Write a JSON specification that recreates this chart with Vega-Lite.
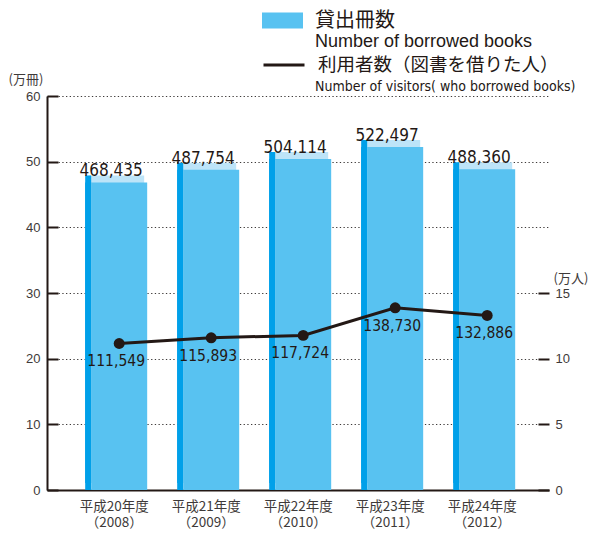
{
  "$schema": "https://vega.github.io/schema/vega-lite/v6.json",
  "width": 502,
  "height": 394,
  "autosize": {"type": "none"},
  "padding": {"left": 47, "top": 96, "right": 43, "bottom": 44},
  "background": "white",
  "config": {"view": {"stroke": null}, "font": "Liberation Sans"},
  "data": {
    "values": [
      {"year": "平成20年度|（2008）", "books": 468435, "visitors": 111549},
      {"year": "平成21年度|（2009）", "books": 487754, "visitors": 115893},
      {"year": "平成22年度|（2010）", "books": 504114, "visitors": 117724},
      {"year": "平成23年度|（2011）", "books": 522497, "visitors": 138730},
      {"year": "平成24年度|（2012）", "books": 488360, "visitors": 132886}
    ]
  },
  "encoding": {
    "x": {
      "field": "year",
      "type": "nominal",
      "sort": null,
      "scale": {"paddingInner": 0, "paddingOuter": 0.2283, "align": 0.552},
      "axis": {
        "title": null,
        "ticks": false,
        "grid": false,
        "domainColor": "#231815",
        "domainWidth": 2,
        "labelExpr": "split(datum.label, '|')",
        "labelFont": "Noto Sans CJK JP",
        "labelFontSize": 13.5,
        "labelColor": "#3e3a39",
        "labelAngle": 0,
        "labelPadding": 9,
        "labelLineHeight": 16,
        "labelOffset": -2,
        "labelBaseline": "top"
      }
    }
  },
  "layer": [
    {
      "encoding": {
        "y": {
          "field": "books",
          "type": "quantitative",
          "scale": {"domain": [0, 600000], "nice": false},
          "axis": {
            "values": [0, 100000, 200000, 300000, 400000, 500000, 600000],
            "labelExpr": "format(datum.value / 10000, 'd')",
            "title": "(万冊)",
            "titleAngle": 0,
            "titleX": -39,
            "titleY": -17,
            "titleAlign": "left",
            "titleBaseline": "middle",
            "titleFont": "Noto Sans CJK JP",
            "titleFontSize": 13,
            "titleFontWeight": "normal",
            "titleColor": "#3e3a39",
            "grid": true,
            "gridDash": [1.3, 2.4],
            "gridColor": "#3e3a39",
            "gridWidth": 1.2,
            "domainColor": "#231815",
            "domainWidth": 2,
            "tickColor": "#231815",
            "tickWidth": 2,
            "tickSize": -11,
            "labelPadding": 18,
            "labelFont": "Liberation Sans",
            "labelFontSize": 13,
            "labelColor": "#3e3a39"
          }
        }
      },
      "layer": [
        {"mark": {"type": "bar", "color": "#bde4f8", "width": 56, "yOffset": -7}},
        {"mark": {"type": "bar", "color": "#00a0e9", "width": 6, "xOffset": -28, "yOffset": -7}},
        {"mark": {"type": "bar", "color": "#00a0e9", "width": 6, "xOffset": -28}},
        {
          "mark": {"type": "bar", "width": 56, "xOffset": 3},
          "encoding": {
            "color": {
              "datum": "貸出冊数",
              "scale": {"range": ["#58c2f1"]},
              "legend": {
                "orient": "none",
                "legendX": 268,
                "legendY": -85.5,
                "title": "Number of borrowed books",
                "titleOrient": "bottom",
                "titleAnchor": "start",
                "titleAlign": "left",
                "titleFont": "Liberation Sans",
                "titleFontSize": 18,
                "titleFontWeight": "normal",
                "titleColor": "#231815",
                "titlePadding": 2,
                "titleLimit": 400,
                "symbolType": "M-2.05,-0.8L2.05,-0.8L2.05,0.8L-2.05,0.8Z",
                "symbolSize": 400,
                "symbolStrokeWidth": 0,
                "symbolOffset": -42.5,
                "labelFont": "Noto Sans CJK JP",
                "labelFontSize": 20,
                "labelColor": "#231815",
                "labelOffset": 22.5,
                "labelLimit": 400
              }
            }
          }
        },
        {
          "mark": {"type": "text", "dx": -5, "dy": -6, "baseline": "alphabetic", "align": "center", "font": "DejaVu Sans Condensed, sans-serif", "fontSize": 17, "color": "#231815"},
          "encoding": {"text": {"field": "books", "type": "quantitative", "format": ","}}
        }
      ]
    },
    {
      "encoding": {
        "y": {
          "field": "visitors",
          "type": "quantitative",
          "scale": {"domain": [0, 300000], "nice": false},
          "axis": {
            "orient": "right",
            "values": [0, 50000, 100000, 150000],
            "labelExpr": "format(datum.value / 10000, 'd')",
            "title": "(万人)",
            "titleAngle": 0,
            "titleX": 4,
            "titleY": 182,
            "titleAlign": "left",
            "titleBaseline": "middle",
            "titleFont": "Noto Sans CJK JP",
            "titleFontSize": 13,
            "titleFontWeight": "normal",
            "titleColor": "#3e3a39",
            "grid": false,
            "domain": false,
            "tickColor": "#231815",
            "tickWidth": 2,
            "tickSize": -11,
            "labelPadding": 17,
            "labelFont": "Liberation Sans",
            "labelFontSize": 13,
            "labelColor": "#3e3a39"
          }
        }
      },
      "layer": [
        {
          "mark": {"type": "line", "strokeWidth": 3, "xOffset": 3},
          "encoding": {
            "stroke": {
              "datum": "利用者数（図書を借りた人）",
              "scale": {"range": ["#231815"]},
              "legend": {
                "orient": "none",
                "legendX": 268,
                "legendY": -42.5,
                "title": "Number of visitors( who borrowed books)",
                "titleOrient": "bottom",
                "titleAnchor": "start",
                "titleAlign": "left",
                "titleFont": "DejaVu Sans Condensed",
                "titleFontSize": 14,
                "titleFontWeight": "normal",
                "titleColor": "#231815",
                "titlePadding": 5,
                "titleLimit": 400,
                "symbolType": "M-2.05,0L2.05,0",
                "symbolSize": 400,
                "symbolStrokeWidth": 3,
                "symbolOffset": -42.5,
                "labelFont": "Noto Sans CJK JP",
                "labelFontSize": 18.5,
                "labelColor": "#231815",
                "labelOffset": 22.5,
                "labelLimit": 400
              }
            }
          }
        },
        {"mark": {"type": "circle", "size": 120, "opacity": 1, "color": "#231815", "xOffset": 3}},
        {
          "mark": {"type": "text", "dy": 23, "baseline": "alphabetic", "align": "center", "font": "DejaVu Sans Condensed, sans-serif", "fontSize": 15.5, "color": "#231815"},
          "encoding": {"text": {"field": "visitors", "type": "quantitative", "format": ","}}
        },
        {
          "data": {"values": [{}]},
          "mark": {"type": "rule", "color": "#231815", "strokeWidth": 2},
          "encoding": {"x": {"value": "width"}, "y": {"datum": 0}, "y2": {"datum": 150000}}
        }
      ]
    }
  ],
  "resolve": {"scale": {"y": "independent"}}
}
